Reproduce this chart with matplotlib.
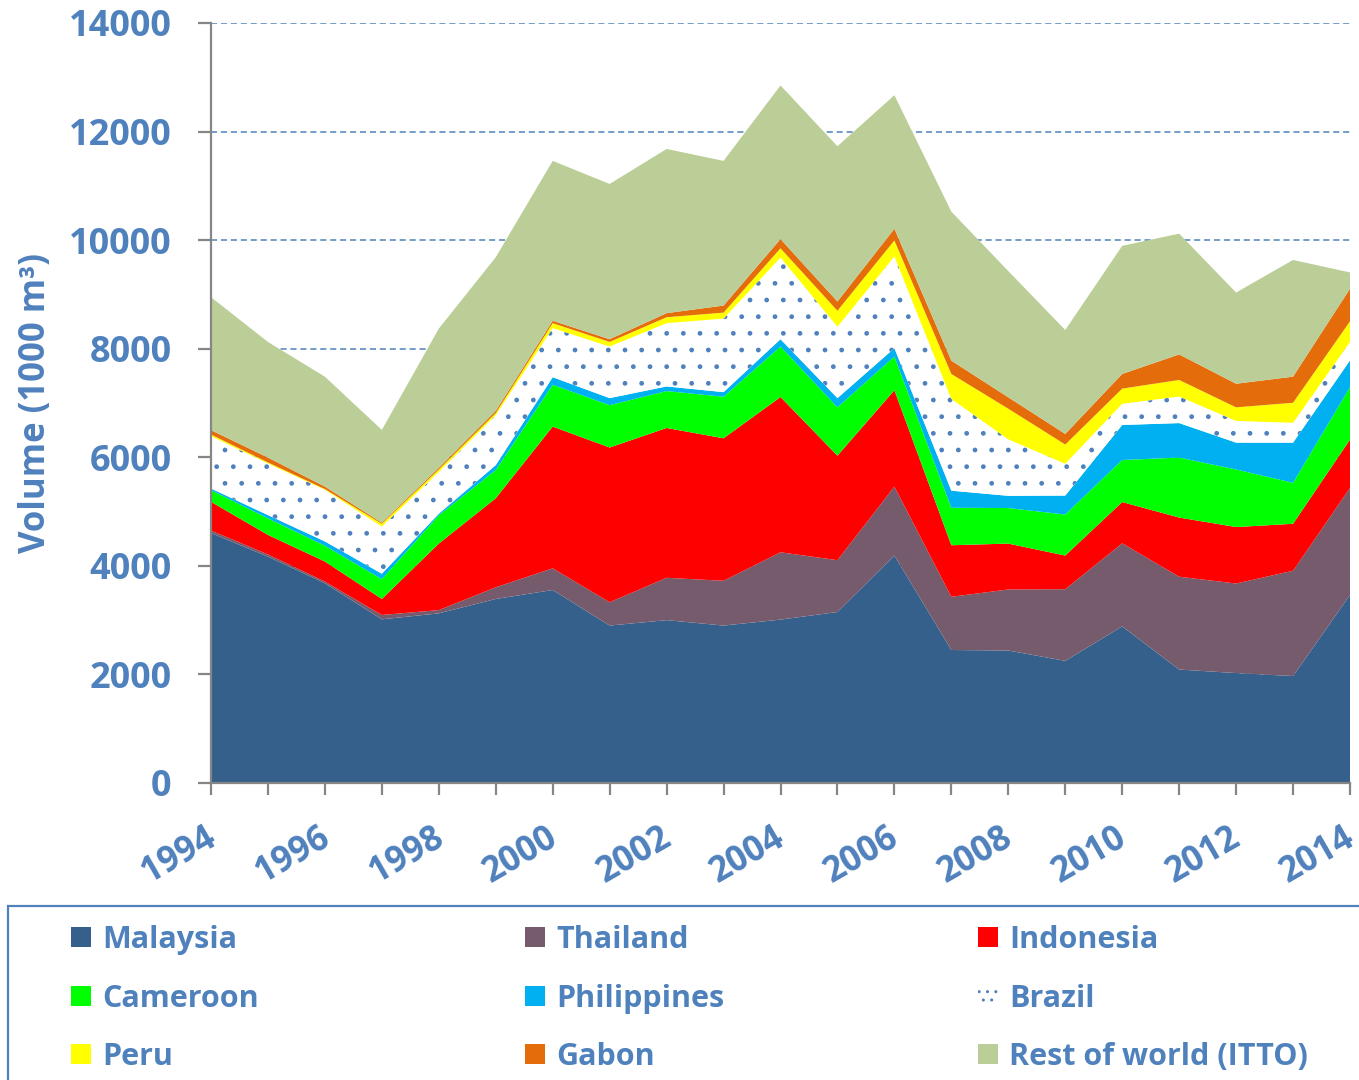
import numpy as np
import matplotlib
matplotlib.use("Agg")
import matplotlib.pyplot as plt
from matplotlib.patches import Rectangle
from matplotlib.transforms import ScaledTranslation

plt.rcParams['font.family'] = ['Open Sans', 'DejaVu Sans']
plt.rcParams['font.weight'] = 'bold'
plt.rcParams['hatch.color'] = '#4F81BD'
plt.rcParams['hatch.linewidth'] = 1.0

years = list(range(1994, 2015))

# volumes in 1000 m3
malaysia = [4605, 4170, 3680, 3015, 3125, 3390, 3555, 2900, 3000, 2900, 3010,
            3150, 4190, 2450, 2440, 2250, 2885, 2090, 2025, 1970, 3465]
thailand = [45, 40, 30, 80, 60, 215, 400, 430, 780, 825, 1240,
            955, 1270, 980, 1125, 1320, 1530, 1710, 1650, 1940, 1970]
indonesia = [530, 360, 370, 295, 1225, 1640, 2610, 2850, 2760, 2625, 2860,
             1925, 1775, 950, 845, 620, 760, 1090, 1040, 865, 890]
cameroon = [215, 305, 290, 365, 520, 520, 770, 780, 680, 765, 930,
            890, 620, 690, 655, 755, 775, 1105, 1060, 755, 965]
philippines = [30, 60, 80, 100, 30, 90, 140, 130, 85, 85, 135,
               170, 155, 315, 225, 350, 645, 635, 495, 740, 495]
brazil = [965, 950, 950, 870, 770, 920, 905, 950, 1165, 1355, 1505,
          1315, 1690, 1690, 1040, 585, 390, 490, 400, 365, 340]
peru = [30, 20, 15, 50, 45, 40, 90, 85, 110, 110, 170,
        295, 295, 460, 565, 355, 280, 305, 250, 370, 380]
gabon = [80, 90, 45, 20, 30, 40, 45, 50, 75, 130, 170,
         170, 215, 245, 210, 195, 270, 470, 435, 480, 600]
rest = [2450, 2130, 2025, 1710, 2565, 2830, 2945, 2860, 3025, 2665, 2830,
        2860, 2460, 2745, 2325, 1915, 2360, 2225, 1680, 2150, 300]

names = ['Malaysia', 'Thailand', 'Indonesia', 'Cameroon', 'Philippines',
         'Brazil', 'Peru', 'Gabon', 'Rest of world (ITTO)']
colors = ['#35608C', '#765B6D', '#FF0000', '#00FF00', '#00B0F0',
          'white', '#FFFF00', '#E46C0A', '#BBCE98']
series = [malaysia, thailand, indonesia, cameroon, philippines,
          brazil, peru, gabon, rest]

txt = '#4F81BD'
axcol = '#868686'
W, H = 1359, 1080

fig = plt.figure(figsize=(W / 100, H / 100), dpi=100)
ax = fig.add_axes([211 / W, 1 - 783 / H, 1139 / W, 760 / H])

polys = ax.stackplot(years, *series, colors=colors, linewidth=0)
polys[5].set_hatch('.')
polys[5].set_edgecolor(txt)
polys[5].set_linewidth(0)

ax.set_xlim(1994, 2014)
ax.set_ylim(0, 14000)
ax.set_yticks(range(0, 14001, 2000))
ax.set_xticks(years)

ax.yaxis.grid(True, linestyle=(0, (4, 2.5)), color=txt, linewidth=1.1)
ax.set_axisbelow(True)

for s in ['top', 'right']:
    ax.spines[s].set_visible(False)
for s in ['left', 'bottom']:
    ax.spines[s].set_color(axcol)
    ax.spines[s].set_linewidth(1.6)
    ax.spines[s].set_zorder(5)

ax.tick_params(axis='y', length=9.4, width=1.6, color=axcol, pad=19,
               labelsize=26, labelcolor=txt)
ax.tick_params(axis='x', length=8.6, width=1.6, color=axcol, pad=18,
               labelsize=25, labelcolor=txt)

ax.set_xticklabels([str(y) if y % 2 == 0 else '' for y in years],
                   rotation=30, ha='right', va='top', rotation_mode='anchor')
# nudge the year labels a little to the left, as in the original
shift = ScaledTranslation(-0.07, 0, fig.dpi_scale_trans)
for lab in ax.get_xticklabels():
    lab.set_transform(lab.get_transform() + shift)

ax.set_ylabel('Volume (1000 m³)', fontsize=25, color=txt, fontweight='bold')
ax.yaxis.set_label_coords(-0.138, 0.50)

# legend box below the plot
fig.add_artist(Rectangle((8 / W, -0.1), 1.0, 0.1 + 1 - 906 / H,
                         transform=fig.transFigure, fill=False,
                         edgecolor=txt, linewidth=1.6))
col_x = [71, 525, 978]
row_base = [948, 1007, 1065]
for i, name in enumerate(names):
    r, c = i // 3, i % 3
    x0 = col_x[c]
    yb = row_base[r]
    box = Rectangle((x0 / W, 1 - (yb - 1) / H), 20 / W, 20 / H,
                    transform=fig.transFigure, facecolor=colors[i],
                    linewidth=0)
    if name == 'Brazil':
        box.set_hatch('..')
        box.set_edgecolor(txt)
    fig.add_artist(box)
    fig.text((x0 + 31) / W, 1 - yb / H, name, fontsize=22, color=txt,
             fontweight='bold', va='baseline', ha='left')

fig.savefig('out.png', dpi=100)
